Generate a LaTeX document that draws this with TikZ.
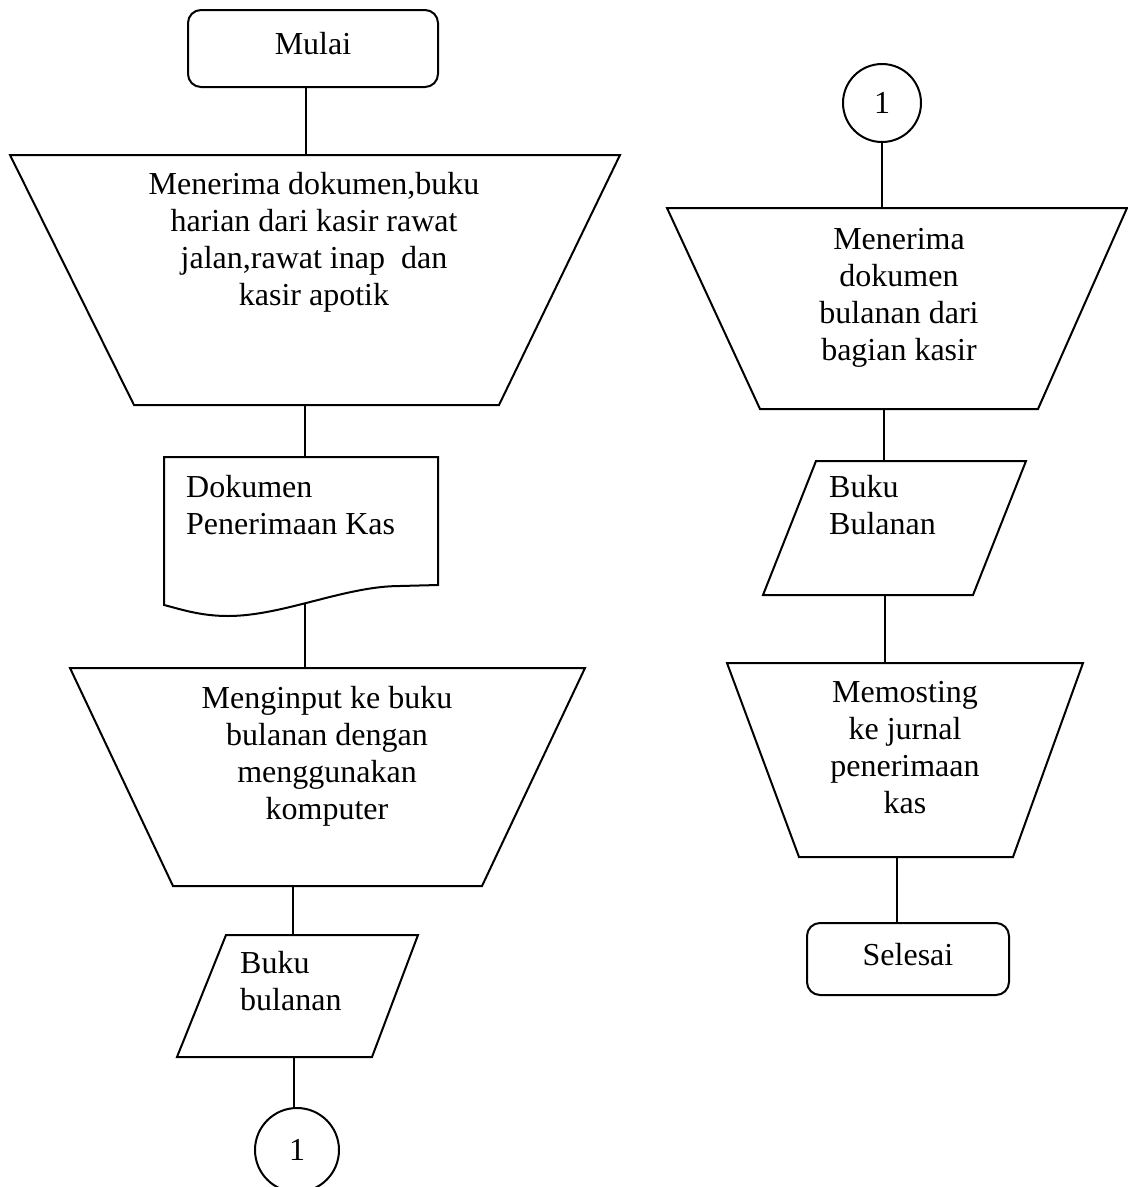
\documentclass[tikz,border=0pt]{standalone}
\usepackage{fontspec}
\setmainfont{Liberation Serif}

\tikzset{
  flow/.style={line width=2pt},
  terminal/.style={draw, line width=2pt, rounded corners=13pt, inner sep=0pt,
    text height=22pt, text depth=10pt},
  konektor/.style={draw, circle, line width=2pt, inner sep=0pt},
  bidang/.style={inner sep=0pt, outer sep=0pt},
  teks/.style={inner sep=0pt, align=center},
}

\begin{document}
\begin{tikzpicture}[x=1pt, y=-1pt, font=\fontsize{32}{37}\selectfont]
\useasboundingbox (0,0) rectangle (1128,1187);

% kolom kiri
\node[terminal, minimum width=250pt, minimum height=77pt] (mulai) at (313,48.5) {Mulai};

\node[bidang, minimum width=610pt, minimum height=250pt] (t1) at (315,280) {};
\draw[flow] (t1.north west) -- (t1.north east) -- ([xshift=-121pt]t1.south east) -- ([xshift=124pt]t1.south west) -- cycle;
\node[teks] (t1teks) at (314,242) {Menerima dokumen,buku\\harian dari kasir rawat\\jalan,rawat inap\ \ dan\\kasir apotik};

\node[bidang, minimum width=274pt, minimum height=128pt] (doc) at (301,521) {};
\draw[flow] (doc.south east) -- (400,586) .. controls (345,586) and (283,616) .. (228,616) .. controls (200,616) and (180,609) .. (164,605) -- (doc.north west) -- (doc.north east) -- cycle;
\coordinate (docb) at (305,603);
\node[teks, anchor=west, align=left] (docteks) at (186,505) {Dokumen\\Penerimaan Kas};

\node[bidang, minimum width=515pt, minimum height=218pt] (t2) at (327.5,777) {};
\draw[flow] (t2.north west) -- (t2.north east) -- ([xshift=-103pt]t2.south east) -- ([xshift=103pt]t2.south west) -- cycle;
\node[teks] (t2teks) at (327,756) {Menginput ke buku\\bulanan dengan\\menggunakan\\komputer};

\node[bidang, minimum width=241pt, minimum height=122pt] (p1) at (297.5,996) {};
\draw[flow] ([xshift=49pt]p1.north west) -- (p1.north east) -- ([xshift=-46pt]p1.south east) -- (p1.south west) -- cycle;
\node[teks, anchor=west, align=left] (p1teks) at (240,981) {Buku\\bulanan};

\node[konektor, minimum size=84pt] (c1) at (297,1150) {1};

% kolom kanan
\node[konektor, minimum size=78pt] (c2) at (882,103) {1};

\node[bidang, minimum width=460pt, minimum height=201pt] (t3) at (897,308.5) {};
\draw[flow] (t3.north west) -- (t3.north east) -- ([xshift=-89pt]t3.south east) -- ([xshift=93pt]t3.south west) -- cycle;
\node[teks] (t3teks) at (899,298) {Menerima\\dokumen\\bulanan dari\\bagian kasir};

\node[bidang, minimum width=263pt, minimum height=134pt] (p2) at (894.5,528) {};
\draw[flow] ([xshift=53pt]p2.north west) -- (p2.north east) -- ([xshift=-53pt]p2.south east) -- (p2.south west) -- cycle;
\node[teks, anchor=west, align=left] (p2teks) at (829,505) {Buku\\Bulanan};

\node[bidang, minimum width=356pt, minimum height=194pt] (t4) at (905,760) {};
\draw[flow] (t4.north west) -- (t4.north east) -- ([xshift=-70pt]t4.south east) -- ([xshift=72pt]t4.south west) -- cycle;
\node[teks] (t4teks) at (905,748) {Memosting\\ke jurnal\\penerimaan\\kas};

\node[terminal, minimum width=202pt, minimum height=72pt] (selesai) at (908,959) {Selesai};

% garis alir
\draw[flow] ([xshift=-7pt]mulai.south) -- ([xshift=-7pt]mulai.south |- t1.north);
\draw[flow] ([xshift=-10pt]t1.south) -- ([xshift=-10pt]t1.south |- doc.north);
\draw[flow] (docb) -- (docb |- t2.north);
\draw[flow] ([xshift=-35pt]t2.south) -- ([xshift=-35pt]t2.south |- p1.north);
\draw[flow] ([xshift=-4pt]p1.south) -- ([xshift=-4pt]p1.south |- c1.north);
\draw[flow] (c2.south) -- (c2.south |- t3.north);
\draw[flow] ([xshift=-13pt]t3.south) -- ([xshift=-13pt]t3.south |- p2.north);
\draw[flow] ([xshift=-10pt]p2.south) -- ([xshift=-10pt]p2.south |- t4.north);
\draw[flow] ([xshift=-8pt]t4.south) -- ([xshift=-8pt]t4.south |- selesai.north);
\end{tikzpicture}
\end{document}
